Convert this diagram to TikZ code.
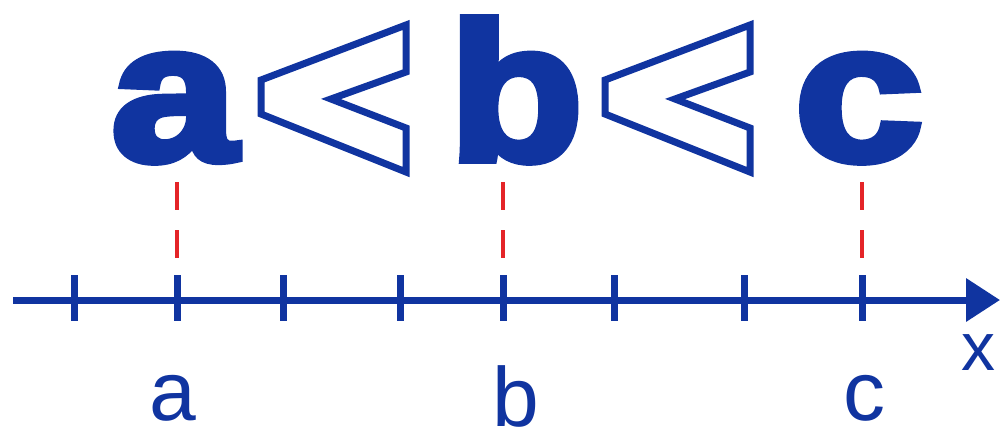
\documentclass[tikz,border=0pt]{standalone}
\usepackage{fontspec}
\setmainfont{Liberation Sans}
\newfontfamily\heavy[FakeBold=4]{Liberation Sans Bold}
\usetikzlibrary{arrows.meta}
\definecolor{dblue}{RGB}{16,52,160}
\definecolor{dred}{RGB}{228,36,40}
\tikzset{
  bigletter/.style={anchor=base, inner sep=0pt, text=dblue, font=\heavy\fontsize{196}{200}\selectfont},
  smallletter/.style={anchor=base, inner sep=0pt, text=dblue, font=\fontsize{84}{90}\selectfont},
  axisline/.style={draw=dblue, line width=7pt},
  tick/.style={draw=dblue, line width=7pt},
  guide/.style={draw=dred, line width=4.5pt, dash pattern=on 28pt off 20pt},
  ltshape/.style={draw=dblue, line width=7pt, line join=miter}
}
\begin{document}
\begin{tikzpicture}[x=1pt,y=-1pt]
\useasboundingbox (0,0) rectangle (1002,429);
% big letters
\node[bigletter] (A) at (174,160) {\scalebox{1.15}[1]{a}};
\node[bigletter] (B) at (516,160) {\scalebox{1.12}[1]{b}};
\node[bigletter] (C) at (859,160) {\scalebox{1.18}[1]{c}};
% outlined less-than signs
\draw[ltshape] (261,80) -- (406,25) -- (406,72) -- (331,99) -- (406,128) -- (406,172) -- (261,114) -- cycle;
\draw[ltshape, xshift=344pt] (261,80) -- (406,25) -- (406,72) -- (331,99) -- (406,128) -- (406,172) -- (261,114) -- cycle;
% axis
\coordinate (s) at (13,300);
\coordinate (e) at (1000,300);
\draw[axisline, -{Triangle[length=34pt,width=42pt]}] (s) -- (e);
\foreach \xx/\nm in {74/t1,177/ta,283/t3,400/t4,503/tb,614/t6,744/t7,862/tc}{
  \coordinate (\nm u) at (\xx,275);
  \coordinate (\nm d) at (\xx,321);
  \draw[tick] (\nm u) -- (\nm d);
}
% red guides
\foreach \xx/\nm in {177/ga,503/gb,862/gc}{
  \coordinate (\nm 1) at (\xx,182);
  \coordinate (\nm 2) at (\xx,259);
  \draw[guide] (\nm 1) -- (\nm 2);
}
% labels
\node[smallletter] (la) at (173,420) {a};
\node[smallletter] (lb) at (516,426) {b};
\node[smallletter] (lc) at (864,420) {c};
\node[smallletter, font=\fontsize{68}{72}\selectfont] (lx) at (978,370) {x};
\end{tikzpicture}
\end{document}
